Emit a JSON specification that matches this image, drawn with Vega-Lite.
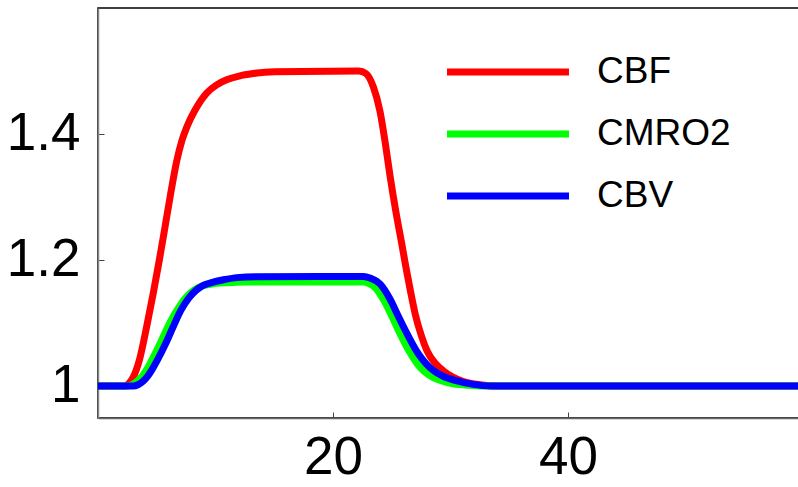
{
  "$schema": "https://vega.github.io/schema/vega-lite/v6.json",
  "autosize": "none",
  "padding": {"left": 98, "top": 8, "right": 0, "bottom": 69},
  "width": 705,
  "height": 410,
  "background": "white",
  "config": {
    "view": {"stroke": "black", "strokeWidth": 1.5},
    "font": "Liberation Sans, sans-serif"
  },
  "data": {
    "values": [
      {"t": 0, "v": 1, "s": "CBF"},
      {"t": 2.3, "v": 1, "s": "CBF"},
      {"t": 2.67, "v": 1.005, "s": "CBF"},
      {"t": 3.0, "v": 1.014, "s": "CBF"},
      {"t": 3.52, "v": 1.041, "s": "CBF"},
      {"t": 4.14, "v": 1.094, "s": "CBF"},
      {"t": 4.71, "v": 1.148, "s": "CBF"},
      {"t": 5.22, "v": 1.2, "s": "CBF"},
      {"t": 5.7, "v": 1.252, "s": "CBF"},
      {"t": 6.19, "v": 1.306, "s": "CBF"},
      {"t": 6.7, "v": 1.357, "s": "CBF"},
      {"t": 7.15, "v": 1.39, "s": "CBF"},
      {"t": 7.6, "v": 1.413, "s": "CBF"},
      {"t": 8.26, "v": 1.438, "s": "CBF"},
      {"t": 9.25, "v": 1.465, "s": "CBF"},
      {"t": 10.1, "v": 1.478, "s": "CBF"},
      {"t": 10.95, "v": 1.486, "s": "CBF"},
      {"t": 12.0, "v": 1.492, "s": "CBF"},
      {"t": 13.2, "v": 1.496, "s": "CBF"},
      {"t": 15, "v": 1.499, "s": "CBF"},
      {"t": 22.2, "v": 1.5, "s": "CBF"},
      {"t": 22.8, "v": 1.496, "s": "CBF"},
      {"t": 23.43, "v": 1.475, "s": "CBF"},
      {"t": 24.0, "v": 1.436, "s": "CBF"},
      {"t": 24.43, "v": 1.388, "s": "CBF"},
      {"t": 24.85, "v": 1.334, "s": "CBF"},
      {"t": 25.33, "v": 1.279, "s": "CBF"},
      {"t": 25.85, "v": 1.226, "s": "CBF"},
      {"t": 26.2, "v": 1.189, "s": "CBF"},
      {"t": 26.6, "v": 1.15, "s": "CBF"},
      {"t": 27.0, "v": 1.114, "s": "CBF"},
      {"t": 27.5, "v": 1.081, "s": "CBF"},
      {"t": 28.0, "v": 1.056, "s": "CBF"},
      {"t": 28.7, "v": 1.036, "s": "CBF"},
      {"t": 29.4, "v": 1.024, "s": "CBF"},
      {"t": 30.2, "v": 1.014, "s": "CBF"},
      {"t": 31.1, "v": 1.007, "s": "CBF"},
      {"t": 32.5, "v": 1.002, "s": "CBF"},
      {"t": 34, "v": 1, "s": "CBF"},
      {"t": 60, "v": 1, "s": "CBF"},
      {"t": 0, "v": 1, "s": "CMRO2"},
      {"t": 2.5, "v": 1, "s": "CMRO2"},
      {"t": 3.15, "v": 1.005, "s": "CMRO2"},
      {"t": 3.6, "v": 1.012, "s": "CMRO2"},
      {"t": 4.14, "v": 1.026, "s": "CMRO2"},
      {"t": 4.71, "v": 1.046, "s": "CMRO2"},
      {"t": 5.42, "v": 1.073, "s": "CMRO2"},
      {"t": 6.13, "v": 1.101, "s": "CMRO2"},
      {"t": 6.98, "v": 1.128, "s": "CMRO2"},
      {"t": 7.6, "v": 1.143, "s": "CMRO2"},
      {"t": 8.17, "v": 1.152, "s": "CMRO2"},
      {"t": 8.9, "v": 1.159, "s": "CMRO2"},
      {"t": 9.7, "v": 1.162, "s": "CMRO2"},
      {"t": 11, "v": 1.164, "s": "CMRO2"},
      {"t": 12.5, "v": 1.165, "s": "CMRO2"},
      {"t": 22.6, "v": 1.165, "s": "CMRO2"},
      {"t": 23.0, "v": 1.163, "s": "CMRO2"},
      {"t": 23.6, "v": 1.156, "s": "CMRO2"},
      {"t": 24.26, "v": 1.138, "s": "CMRO2"},
      {"t": 25.0, "v": 1.111, "s": "CMRO2"},
      {"t": 25.6, "v": 1.087, "s": "CMRO2"},
      {"t": 26.4, "v": 1.058, "s": "CMRO2"},
      {"t": 27.4, "v": 1.03, "s": "CMRO2"},
      {"t": 28.2, "v": 1.017, "s": "CMRO2"},
      {"t": 29.1, "v": 1.009, "s": "CMRO2"},
      {"t": 30.3, "v": 1.003, "s": "CMRO2"},
      {"t": 31.7, "v": 1.001, "s": "CMRO2"},
      {"t": 33, "v": 1, "s": "CMRO2"},
      {"t": 60, "v": 1, "s": "CMRO2"},
      {"t": 0, "v": 1, "s": "CBV"},
      {"t": 3.0, "v": 1, "s": "CBV"},
      {"t": 3.4, "v": 1.002, "s": "CBV"},
      {"t": 3.8, "v": 1.007, "s": "CBV"},
      {"t": 4.2, "v": 1.015, "s": "CBV"},
      {"t": 4.6, "v": 1.026, "s": "CBV"},
      {"t": 5.05, "v": 1.041, "s": "CBV"},
      {"t": 5.75, "v": 1.067, "s": "CBV"},
      {"t": 6.35, "v": 1.092, "s": "CBV"},
      {"t": 7.05, "v": 1.12, "s": "CBV"},
      {"t": 7.74, "v": 1.14, "s": "CBV"},
      {"t": 8.35, "v": 1.152, "s": "CBV"},
      {"t": 9.0, "v": 1.16, "s": "CBV"},
      {"t": 9.8, "v": 1.165, "s": "CBV"},
      {"t": 10.8, "v": 1.169, "s": "CBV"},
      {"t": 11.8, "v": 1.172, "s": "CBV"},
      {"t": 13.5, "v": 1.1736, "s": "CBV"},
      {"t": 22.6, "v": 1.174, "s": "CBV"},
      {"t": 23.2, "v": 1.171, "s": "CBV"},
      {"t": 24.0, "v": 1.162, "s": "CBV"},
      {"t": 24.85, "v": 1.138, "s": "CBV"},
      {"t": 25.5, "v": 1.113, "s": "CBV"},
      {"t": 26.3, "v": 1.083, "s": "CBV"},
      {"t": 27.06, "v": 1.057, "s": "CBV"},
      {"t": 28.26, "v": 1.029, "s": "CBV"},
      {"t": 29.3, "v": 1.016, "s": "CBV"},
      {"t": 30.55, "v": 1.008, "s": "CBV"},
      {"t": 31.8, "v": 1.003, "s": "CBV"},
      {"t": 33.5, "v": 1, "s": "CBV"},
      {"t": 60, "v": 1, "s": "CBV"}
    ]
  },
  "mark": {"type": "line", "strokeWidth": 7, "interpolate": "monotone", "clip": true},
  "encoding": {
    "x": {
      "field": "t", "type": "quantitative",
      "scale": {"domain": [0, 60], "nice": false, "zero": false},
      "axis": {
        "values": [20, 40], "title": null, "grid": false,
        "domainColor": "#666", "domainWidth": 1.5,
        "tickColor": "#444", "tickSize": -6, "tickWidth": 1,
        "labelFontSize": 53, "labelColor": "black", "labelPadding": 19,
        "labelFont": "Liberation Sans, sans-serif"
      }
    },
    "y": {
      "field": "v", "type": "quantitative",
      "scale": {"domain": [0.9492, 1.6], "nice": false, "zero": false},
      "axis": {
        "values": [1, 1.2, 1.4], "format": "~g", "title": null, "grid": false,
        "domainColor": "#888", "domainWidth": 1.5,
        "tickColor": "#444", "tickSize": -6, "tickWidth": 1,
        "labelFontSize": 53, "labelColor": "black", "labelPadding": 24,
        "labelFont": "Liberation Sans, sans-serif"
      }
    },
    "color": {
      "field": "s", "type": "nominal",
      "scale": {"domain": ["CBF", "CMRO2", "CBV"], "range": ["#ff0000", "#00ff00", "#0000ff"]},
      "legend": {
        "title": null, "orient": "none", "legendX": 391, "legendY": 45,
        "padding": 0, "offset": 0,
        "symbolType": "M-4,0H4", "symbolSize": 930, "symbolStrokeWidth": 7,
        "labelFontSize": 37, "labelColor": "black", "labelOffset": 70, "labelLimit": 400,
        "labelFont": "Liberation Sans, sans-serif",
        "rowPadding": 25
      }
    },
    "order": {"field": "t", "type": "quantitative"}
  }
}
